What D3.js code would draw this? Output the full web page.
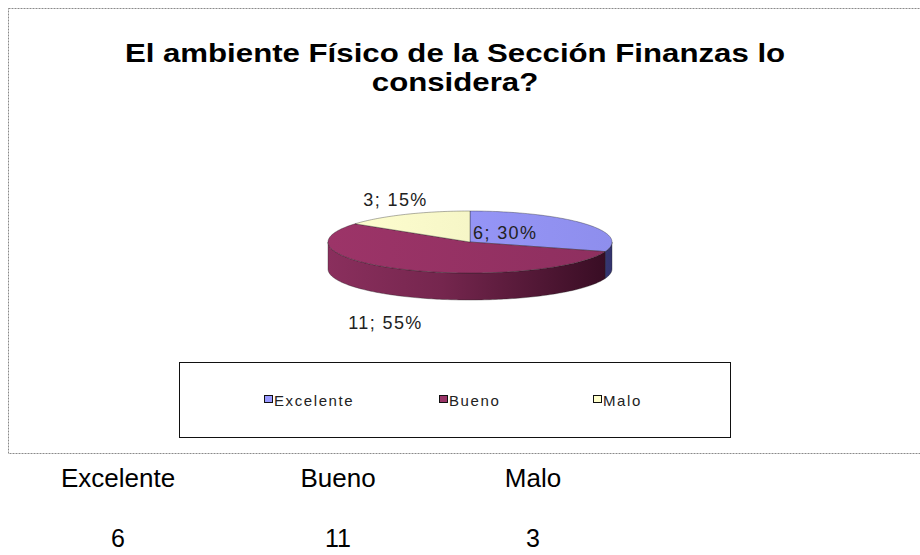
<!DOCTYPE html>
<html>
<head>
<meta charset="utf-8">
<script src="https://cdn.jsdelivr.net/npm/d3@7"></script>
<style>
	body { margin: 0; background: #fff; }
	text { font-family: "Liberation Sans", Arial, sans-serif; }
</style>
</head>
<body>
<div id="chart"></div>
<script>
(function (){
	"use strict";

var categories = ["Excelente", "Bueno", "Malo"];
var counts = [6, 11, 3];
var titleLines = ["El ambiente Físico de la Sección Finanzas lo", "considera?"];

var width = 920,
	height = 555;

var cx = 470, cy = 242,
	rx = 142, ry = 31,
	depth = 27;

var topColour = d3.scaleOrdinal().domain(categories).range(["#9999ff", "#993366", "#ffffcc"]);
var sideLight = d3.scaleOrdinal().domain(categories).range(["#6a6ac0", "#8a2f5d", "#d8d8a0"]);
var sideDark = d3.scaleOrdinal().domain(categories).range(["#34346e", "#360c22", "#8a8a60"]);

var svg = d3.select("#chart").append("svg")
	.attr("width", width)
	.attr("height", height);

var defs = svg.append("defs");

// gradients for the sides and tops
categories.forEach(function(c, i){
	var g = defs.append("linearGradient")
		.attr("id", "side" + i)
		.attr("gradientUnits", "userSpaceOnUse")
		.attr("x1", cx - rx).attr("x2", cx + rx)
		.attr("y1", 0).attr("y2", 0);
	g.append("stop").attr("offset", "0%").attr("stop-color", sideLight(c));
	g.append("stop").attr("offset", "40%").attr("stop-color", d3.interpolateRgb(sideLight(c), sideDark(c))(0.25));
	g.append("stop").attr("offset", "100%").attr("stop-color", sideDark(c));

	var t = defs.append("linearGradient")
		.attr("id", "top" + i)
		.attr("gradientUnits", "userSpaceOnUse")
		.attr("x1", cx - rx).attr("x2", cx + rx)
		.attr("y1", 0).attr("y2", 0);
	t.append("stop").attr("offset", "0%").attr("stop-color", d3.color(topColour(c)).brighter(0.05));
	t.append("stop").attr("offset", "100%").attr("stop-color", d3.color(topColour(c)).darker(0.2));
});

// outer dotted frame
svg.append("rect")
	.attr("x", 8.5).attr("y", 8.5)
	.attr("width", 940).attr("height", 445)
	.attr("fill", "none")
	.attr("stroke", "#8a8a8a")
	.attr("stroke-dasharray", "2,1");

// title
svg.append("g").selectAll("text").data(titleLines)
	.enter().append("text")
		.attr("transform", function(d, i){ return "translate(455," + (62 + i * 29) + ") scale(1.2,1)"; })
		.attr("text-anchor", "middle")
		.style("font-size", "26px")
		.style("font-weight", "bold")
		.style("fill", "#000")
		.text(function(d){ return d; });

// pie
var pie = d3.pie().sort(null);
var arcs = pie(counts);
var total = d3.sum(counts);

function px(a){ return cx + rx * Math.sin(a); }
function py(a){ return cy - ry * Math.cos(a); }
function arcPoints(a0, a1, dy){
	var n = Math.max(2, Math.ceil(Math.abs(a1 - a0) / 0.02));
	return d3.range(n + 1).map(function(k){
		var a = a0 + (a1 - a0) * k / n;
		return [px(a), py(a) + dy];
	});
}
var line = d3.line();

var pieG = svg.append("g");

// side walls (only the front half shows)
arcs.forEach(function(d, i){
	var s = Math.max(d.startAngle, Math.PI / 2),
		e = Math.min(d.endAngle, Math.PI * 1.5);
	if(e <= s) return;
	var pts = arcPoints(s, e, 0).concat(arcPoints(e, s, depth));
	pieG.append("path")
		.attr("d", line(pts) + "Z")
		.attr("fill", "url(#side" + i + ")")
		.attr("stroke", "#222")
		.attr("stroke-width", 0.6)
		.attr("stroke-opacity", 0.6);
});

// top faces
pieG.selectAll("path.top").data(arcs)
	.enter().append("path")
		.attr("class", "top")
		.attr("d", function(d){
			return line([[cx, cy]].concat(arcPoints(d.startAngle, d.endAngle, 0))) + "Z";
		})
		.attr("fill", function(d, i){ return "url(#top" + i + ")"; })
		.attr("stroke", "#222")
		.attr("stroke-width", 0.6)
		.attr("stroke-opacity", 0.6);

// data labels
var labelOffsets = [[0, 0], [-20, 53], [-10, -14]];
svg.append("g").selectAll("text").data(arcs)
	.enter().append("text")
		.attr("x", function(d, i){
			if(i === 0) return cx + 3;
			var m = (d.startAngle + d.endAngle) / 2;
			return px(m) + labelOffsets[i][0];
		})
		.attr("y", function(d, i){
			if(i === 0) return cy - 3;
			var m = (d.startAngle + d.endAngle) / 2;
			return py(m) + labelOffsets[i][1] + 6;
		})
		.attr("text-anchor", function(d, i){ return i === 0 ? "start" : "middle"; })
		.style("font-size", "18px")
		.style("letter-spacing", "1.4px")
		.style("fill", "#222")
		.text(function(d){ return d.data + "; " + Math.round(d.data / total * 100) + "%"; });

// legend
svg.append("rect")
	.attr("x", 179.5).attr("y", 362.5)
	.attr("width", 551).attr("height", 75)
	.attr("fill", "#fff")
	.attr("stroke", "#111")
	.attr("stroke-width", 1);

var legendX = d3.scaleOrdinal().domain(categories).range([264, 439, 593]);
var legend = svg.append("g").selectAll("g").data(categories)
	.enter().append("g")
		.attr("transform", function(d){ return "translate(" + legendX(d) + ",400)"; });
legend.append("rect")
	.attr("x", 0.5).attr("y", -4.5)
	.attr("width", 8).attr("height", 7)
	.attr("fill", function(d){ return topColour(d); })
	.attr("stroke", "#111")
	.attr("stroke-width", 1);
legend.append("text")
	.attr("x", 10).attr("y", 5.5)
	.style("font-size", "15px")
	.style("letter-spacing", "1.6px")
	.style("fill", "#222")
	.text(function(d){ return d; });

// table below the chart
var colX = d3.scaleOrdinal().domain(categories).range([118, 338, 533]);
var table = svg.append("g").selectAll("g").data(categories)
	.enter().append("g");
table.append("text")
	.attr("x", function(d){ return colX(d); })
	.attr("y", 487)
	.attr("text-anchor", "middle")
	.style("font-size", "26px")
	.text(function(d){ return d; });
table.append("text")
	.attr("x", function(d){ return colX(d); })
	.attr("y", 547)
	.attr("text-anchor", "middle")
	.style("font-size", "25px")
	.text(function(d, i){ return counts[i]; });

})();
</script>
</body>
</html>
